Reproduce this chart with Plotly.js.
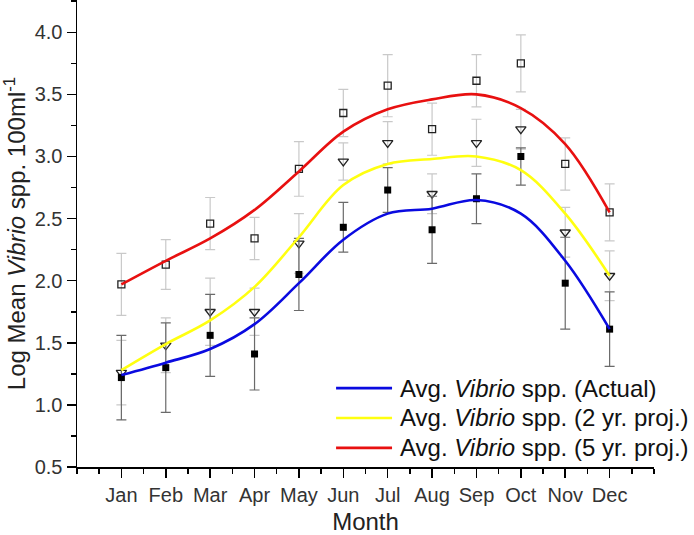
<!DOCTYPE html>
<html>
<head>
<meta charset="utf-8">
<script src="https://cdn.plot.ly/plotly-3.0.1.min.js"></script>
<style>html,body{margin:0;padding:0;background:#fff;}#chart{width:694px;height:535px;}</style>
</head>
<body>
<div id="chart"></div>
<script>
// Month positions and labels
const months = [1,2,3,4,5,6,7,8,9,10,11,12];
const monthLabels = ["Jan","Feb","Mar","Apr","May","Jun","Jul","Aug","Sep","Oct","Nov","Dec"];

// Observed means (points) and error bars
const actualMean = [1.22,1.30,1.56,1.41,2.05,2.43,2.73,2.41,2.66,3.00,1.98,1.61];
const actualErrPlus  = [0.34,0.36,0.33,0.29,0.29,0.20,0.18,0.27,0.20,0.07,0.37,0.30];
const actualErrMinus = [0.34,0.36,0.33,0.29,0.29,0.20,0.18,0.27,0.20,0.23,0.37,0.30];

const proj2Mean = [1.26,1.48,1.75,1.75,2.30,2.96,3.11,2.70,3.11,3.22,2.39,2.04];
const proj2Err  = [0.26,0.22,0.27,0.19,0.24,0.15,0.17,0.16,0.19,0.16,0.20,0.20];

const proj5Mean = [1.97,2.13,2.46,2.34,2.90,3.35,3.57,3.22,3.61,3.75,2.94,2.55];
const proj5Err  = [0.25,0.20,0.21,0.17,0.22,0.19,0.25,0.21,0.21,0.23,0.21,0.23];

// Smoothed trend curves
const actualCurve = [1.24,1.34,1.45,1.65,1.98,2.33,2.54,2.58,2.65,2.54,2.16,1.61];
const proj2Curve  = [1.28,1.49,1.68,1.95,2.35,2.77,2.94,2.98,3.00,2.89,2.54,2.04];
const proj5Curve  = [1.97,2.16,2.34,2.57,2.88,3.20,3.38,3.46,3.50,3.39,3.10,2.55];

const seriesNames = [
  "Avg. <i>Vibrio</i> spp. (Actual)",
  "Avg. <i>Vibrio</i> spp. (2 yr. proj.)",
  "Avg. <i>Vibrio</i> spp. (5 yr. proj.)"
];
const seriesColors = ["#0a0ae0", "#ffff10", "#e81010"];

const darkBar = "#6a6a6a", lightBar = "#c9c9c9";

const traces = [
  {x: months, y: proj5Mean, type: "scatter", mode: "markers", showlegend: false,
   marker: {symbol: "square-open", size: 7, color: "#222", line: {width: 1.3, color: "#222"}},
   error_y: {type: "data", array: proj5Err, visible: true, color: lightBar, thickness: 1.2, width: 5}},
  {x: months, y: proj2Mean, type: "scatter", mode: "markers", showlegend: false,
   marker: {symbol: "triangle-down-open", size: 9, color: "#222", line: {width: 1.3, color: "#222"}},
   error_y: {type: "data", array: proj2Err, visible: true, color: lightBar, thickness: 1.2, width: 5}},
  {x: months, y: actualMean, type: "scatter", mode: "markers", showlegend: false,
   marker: {symbol: "square", size: 7, color: "#000"},
   error_y: {type: "data", symmetric: false, array: actualErrPlus, arrayminus: actualErrMinus, visible: true, color: darkBar, thickness: 1.2, width: 5}},
  {x: months, y: actualCurve, type: "scatter", mode: "lines", name: seriesNames[0], showlegend: false,
   line: {color: seriesColors[0], width: 2.6, shape: "spline", smoothing: 1}},
  {x: months, y: proj2Curve, type: "scatter", mode: "lines", name: seriesNames[1], showlegend: false,
   line: {color: seriesColors[1], width: 2.6, shape: "spline", smoothing: 1}},
  {x: months, y: proj5Curve, type: "scatter", mode: "lines", name: seriesNames[2], showlegend: false,
   line: {color: seriesColors[2], width: 2.6, shape: "spline", smoothing: 1}}
];

// Legend drawn as paper-anchored line samples and labels
const legendRowsY = [0.169, 0.105, 0.041];
const shapes = seriesNames.map((n, i) => ({
  type: "line", xref: "paper", yref: "paper",
  x0: 0.449, x1: 0.546, y0: legendRowsY[i], y1: legendRowsY[i],
  line: {color: seriesColors[i], width: 2.6}
}));
const annotations = seriesNames.map((n, i) => ({
  xref: "paper", yref: "paper", x: 0.556, y: legendRowsY[i],
  xanchor: "left", yanchor: "middle", showarrow: false, text: n,
  font: {size: 24, color: "#111"}
}));

const layout = {
  width: 694, height: 535,
  margin: {l: 77, r: 40, t: 0, b: 68},
  paper_bgcolor: "#fff", plot_bgcolor: "#fff",
  font: {family: "Liberation Sans, Arial, sans-serif", color: "#222"},
  showlegend: false,
  shapes: shapes,
  annotations: annotations,
  xaxis: {
    range: [0, 13], tickvals: months, ticktext: monthLabels,
    showgrid: false, zeroline: false, showline: true, linecolor: "#000", linewidth: 1.5,
    ticks: "outside", ticklen: 9, tickwidth: 1.5, tickcolor: "#000",
    tickfont: {size: 20, color: "#333"},
    minor: {dtick: 0.5, tick0: 0, ticks: "outside", ticklen: 5, tickwidth: 1.5, tickcolor: "#000", showgrid: false},
    title: {text: "Month", font: {size: 24, color: "#222"}, standoff: 14},
    fixedrange: true
  },
  yaxis: {
    range: [0.5, 4.26], tickvals: [0.5,1.0,1.5,2.0,2.5,3.0,3.5,4.0],
    ticktext: ["0.5","1.0","1.5","2.0","2.5","3.0","3.5","4.0"],
    showgrid: false, zeroline: false, showline: true, linecolor: "#000", linewidth: 1.5,
    ticks: "outside", ticklen: 9, tickwidth: 1.5, tickcolor: "#000",
    tickfont: {size: 20, color: "#333"},
    minor: {dtick: 0.25, tick0: 0.5, ticks: "outside", ticklen: 5, tickwidth: 1.5, tickcolor: "#000", showgrid: false},
    title: {text: "Log Mean <i>Vibrio</i> spp. 100ml<sup>-1</sup>", font: {size: 24, color: "#222"}, standoff: 10},
    fixedrange: true
  }
};

Plotly.newPlot("chart", traces, layout, {displayModeBar: false, staticPlot: true});
</script>
</body>
</html>
